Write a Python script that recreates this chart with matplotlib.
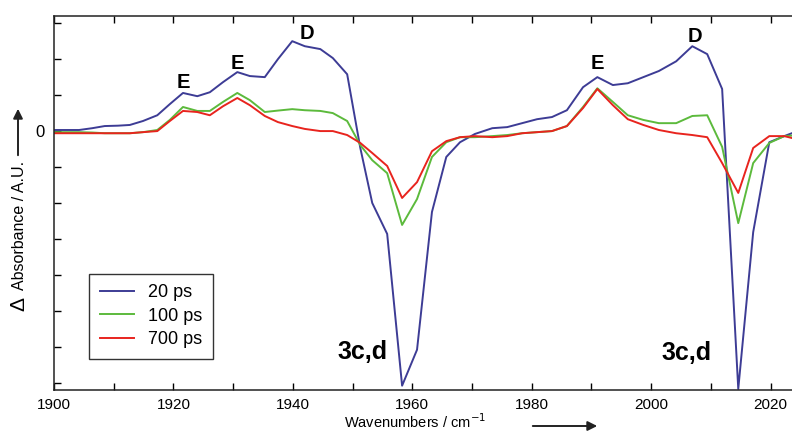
import matplotlib
matplotlib.use("Agg")
import matplotlib.pyplot as plt
from matplotlib.ticker import MultipleLocator, FixedLocator, FixedFormatter

# wavenumbers of the detector pixels (cm^-1)
wavenumbers = [
    1900.0, 1902.2, 1904.2, 1906.4, 1908.5, 1910.7, 1912.7, 1914.9, 1917.3, 1919.4,
    1921.6, 1924.0, 1926.1, 1928.3, 1930.7, 1932.8, 1935.3, 1937.5, 1939.9, 1942.0,
    1944.6, 1946.7, 1949.1, 1951.3, 1953.3, 1955.8, 1958.3, 1960.8, 1963.3, 1965.7,
    1968.0, 1970.5, 1973.4, 1975.9, 1978.4, 1980.9, 1983.4, 1985.9, 1988.6, 1991.0,
    1993.6, 1996.1, 1998.7, 2001.3, 2004.2, 2006.9, 2009.4, 2011.9, 2014.6, 2017.1,
    2019.8, 2022.3, 2025.0,
]

ps20 = [
    0.03, 0.03, 0.03, 0.08, 0.14, 0.15, 0.17, 0.28, 0.44, 0.75,
    1.06, 0.97, 1.08, 1.36, 1.64, 1.53, 1.50, 2.00, 2.50, 2.36,
    2.28, 2.03, 1.58, -0.47, -2.00, -2.86, -7.08, -6.08, -2.25, -0.72,
    -0.31, -0.08, 0.08, 0.11, 0.22, 0.33, 0.39, 0.58, 1.22, 1.50,
    1.28, 1.33, 1.50, 1.67, 1.94, 2.36, 2.14, 1.17, -7.17, -2.81,
    -0.31, -0.14, 0.03,
]

ps100 = [
    -0.03, -0.03, -0.03, -0.04, -0.06, -0.06, -0.06, -0.03, 0.03, 0.31,
    0.67, 0.56, 0.56, 0.81, 1.06, 0.86, 0.53, 0.57, 0.61, 0.58,
    0.56, 0.50, 0.28, -0.39, -0.81, -1.17, -2.61, -1.89, -0.72, -0.31,
    -0.17, -0.17, -0.14, -0.11, -0.06, -0.03, 0.00, 0.14, 0.67, 1.19,
    0.81, 0.44, 0.31, 0.22, 0.22, 0.42, 0.44, -0.44, -2.56, -0.89,
    -0.33, -0.14, -0.11,
]

ps700 = [
    -0.06, -0.06, -0.06, -0.06, -0.06, -0.06, -0.06, -0.03, 0.00, 0.28,
    0.56, 0.53, 0.44, 0.69, 0.92, 0.72, 0.42, 0.25, 0.14, 0.06,
    0.00, 0.00, -0.11, -0.33, -0.61, -0.97, -1.86, -1.42, -0.56, -0.28,
    -0.17, -0.14, -0.17, -0.14, -0.06, -0.03, 0.00, 0.14, 0.64, 1.17,
    0.72, 0.33, 0.17, 0.03, -0.06, -0.11, -0.17, -0.89, -1.72, -0.47,
    -0.14, -0.14, -0.25,
]

series_labels = ["20 ps", "100 ps", "700 ps"]

# band labels: (text, wavenumber, baseline)
band_labels = [
    ("E", 1921.6, 1.19),
    ("E", 1930.65, 1.72),
    ("D", 1942.4, 2.56),
    ("E", 1991.0, 1.72),
    ("D", 2007.4, 2.47),
]
species_labels = [
    ("3c,d", 1951.6, -6.33),
    ("3c,d", 2006.0, -6.36),
]


def main():
    plt.rcParams['font.family'] = ['Liberation Sans', 'DejaVu Sans']

    fig = plt.figure(figsize=(7.92, 4.32), dpi=100)
    ax = fig.add_axes([54 / 792, 1 - 390 / 432, 738 / 792, 374 / 432])

    ax.plot(wavenumbers, ps20, color='#3d3c95', lw=1.4, label=series_labels[0])
    ax.plot(wavenumbers, ps100, color='#5cba3c', lw=1.4, label=series_labels[1])
    ax.plot(wavenumbers, ps700, color='#e8241e', lw=1.4, label=series_labels[2])

    ax.set_xlim(1900, 2023.6)
    ax.set_ylim(-7.2, 3.2)

    for text, x, y in band_labels:
        ax.text(x, y, text, ha='center', va='baseline', fontsize=14.5, fontweight='bold')
    for text, x, y in species_labels:
        ax.text(x, y, text, ha='center', va='baseline', fontsize=18, fontweight='bold')

    # ticks
    ax.xaxis.set_major_locator(MultipleLocator(20))
    ax.xaxis.set_minor_locator(MultipleLocator(10))
    ax.yaxis.set_major_locator(FixedLocator(range(-7, 4)))
    ax.yaxis.set_major_formatter(FixedFormatter(["" if v != 0 else "0" for v in range(-7, 4)]))
    ax.tick_params(axis='x', which='both', direction='in', top=True, bottom=True,
                   length=5, width=1, labelsize=11, pad=6)
    ax.tick_params(axis='y', which='both', direction='in', right=False,
                   length=5, width=1, labelsize=12, pad=7)
    ax.spines['right'].set_visible(False)
    for s in ['left', 'top', 'bottom']:
        ax.spines[s].set_linewidth(1.1)
        ax.spines[s].set_color('#222222')

    leg = ax.legend(loc='lower left', bbox_to_anchor=(0.047, 0.083), borderaxespad=0,
                    fontsize=13, fancybox=False, framealpha=1, edgecolor='#333333',
                    handlelength=1.9, handletextpad=0.8, labelspacing=0.35,
                    borderpad=0.6)
    leg.get_frame().set_linewidth(1.0)

    # axis labels with arrows
    fig.text(415 / 792, 1 - 422 / 432, "Wavenumbers / cm$^{-1}$", ha='center', va='center', fontsize=10.5)
    ax.annotate('', xy=(600, 432 - 426), xytext=(530, 432 - 426), xycoords='figure pixels',
                textcoords='figure pixels',
                arrowprops=dict(arrowstyle='-|>', color='#222222', lw=1.4, mutation_scale=14))
    fig.text(19 / 792, 1 - 304 / 432, "Δ", rotation=90, ha='center', va='center', fontsize=15)
    fig.text(20 / 792, 1 - 290 / 432, "Absorbance / A.U.", rotation=90, ha='center', va='bottom', fontsize=11.5)
    ax.annotate('', xy=(18, 432 - 106), xytext=(18, 432 - 158), xycoords='figure pixels',
                textcoords='figure pixels',
                arrowprops=dict(arrowstyle='-|>', color='#222222', lw=1.4, mutation_scale=14))

    plt.savefig("out.png", dpi=100)


if __name__ == "__main__":
    main()
